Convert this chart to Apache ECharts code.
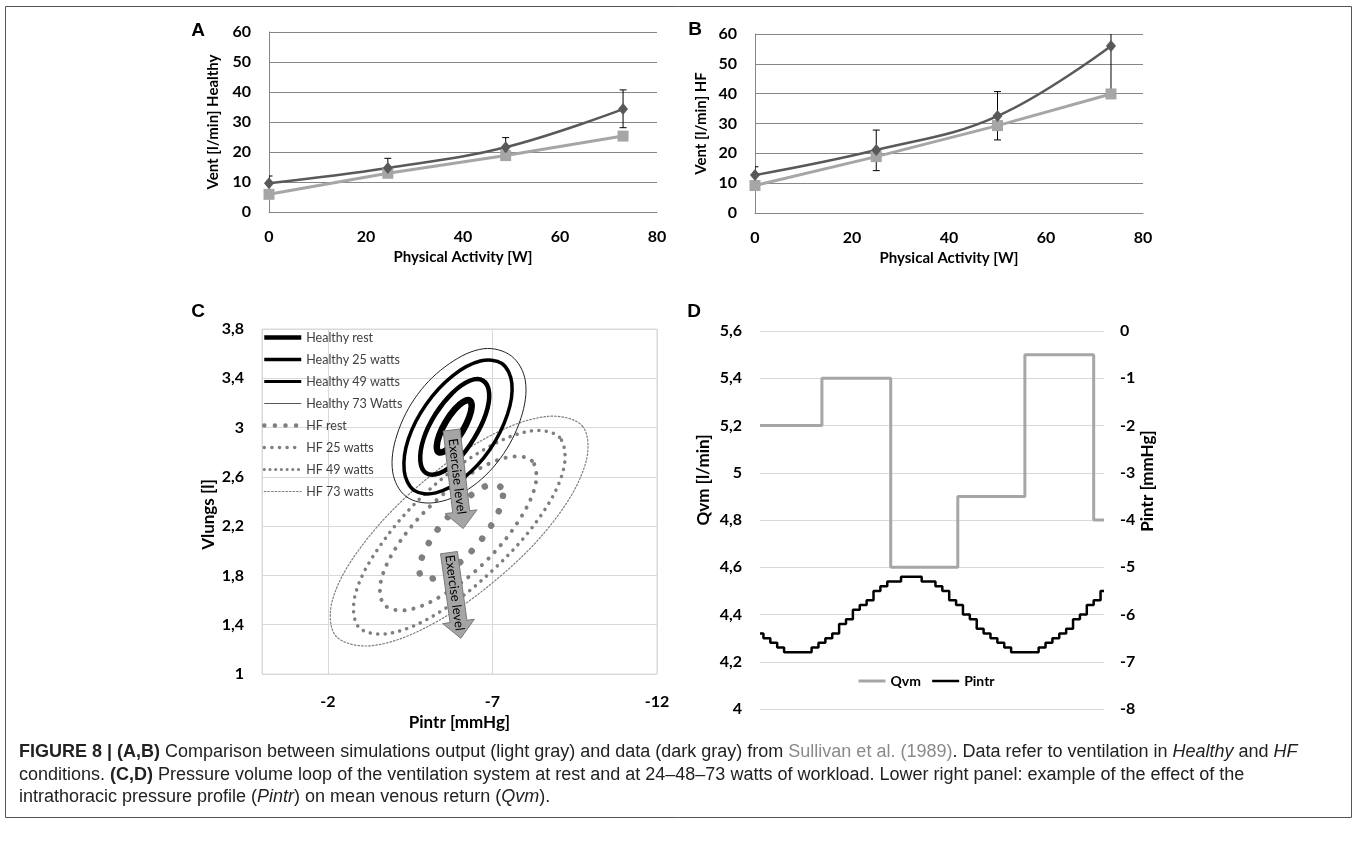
<!DOCTYPE html>
<html>
<head>
<meta charset="utf-8">
<script src="https://cdn.jsdelivr.net/npm/echarts@6/dist/echarts.min.js"></script>
<style>
  html, body { margin: 0; padding: 0; background: #fff; }
  #chart { width: 1358px; height: 843px; }
</style>
</head>
<body>
<div id="chart"></div>
<script>
// --- panels A and B: ventilation vs physical activity ---
const wattsA = [0, 24.5, 48.8, 73];
const ventHealthyData = [9.6, 14.7, 21.6, 34.3];
const ventHealthyLow = [9.6, 14.7, 21.6, 28.1];
const ventHealthyHigh = [12.0, 17.9, 24.8, 40.7];
const ventHealthySim = [5.9, 12.9, 18.8, 25.3];

const wattsB = [0, 25, 50, 73.4];
const ventHFData = [12.7, 21.1, 32.5, 56.0];
const ventHFLow = [12.7, 14.2, 24.5, 41.0];
const ventHFHigh = [15.5, 27.8, 40.7, 71.0];
const ventHFSim = [9.2, 18.9, 29.3, 39.9];

// --- panel C: pressure-volume loops, points are [Pintr, Vlungs] ---
const healthyRest = [[-6.31, 3.22], [-6.12, 3.21], [-5.86, 3.15], [-5.59, 3.05], [-5.39, 2.94], [-5.31, 2.85],
  [-5.37, 2.80], [-5.56, 2.81], [-5.82, 2.87], [-6.09, 2.97], [-6.29, 3.08], [-6.37, 3.17]];
const healthy25 = [[-6.72, 3.38], [-6.31, 3.38], [-5.78, 3.28], [-5.27, 3.11], [-4.91, 2.91], [-4.81, 2.73],
  [-4.99, 2.63], [-5.40, 2.63], [-5.93, 2.73], [-6.44, 2.91], [-6.80, 3.11], [-6.90, 3.28]];
const healthy49 = [[-7.29, 3.52], [-6.63, 3.54], [-5.79, 3.42], [-4.99, 3.19], [-4.45, 2.91], [-4.32, 2.65],
  [-4.62, 2.49], [-5.28, 2.47], [-6.12, 2.59], [-6.92, 2.82], [-7.46, 3.11], [-7.59, 3.36]];
const healthy73 = [[-7.58, 3.58], [-6.74, 3.64], [-5.70, 3.52], [-4.73, 3.27], [-4.10, 2.94], [-3.97, 2.64],
  [-4.38, 2.44], [-5.22, 2.39], [-6.27, 2.50], [-7.24, 2.75], [-7.87, 3.08], [-8.00, 3.38]];
const hfRest = [[-7.24, 2.52], [-6.85, 2.53], [-6.25, 2.43], [-5.60, 2.26], [-5.06, 2.06], [-4.79, 1.88],
  [-4.86, 1.78], [-5.25, 1.78], [-5.85, 1.87], [-6.51, 2.04], [-7.04, 2.24], [-7.31, 2.42]];
const hf25 = [[-8.20, 2.73], [-7.49, 2.76], [-6.37, 2.63], [-5.14, 2.37], [-4.13, 2.05], [-3.61, 1.75],
  [-3.72, 1.56], [-4.43, 1.52], [-5.55, 1.65], [-6.78, 1.91], [-7.79, 2.24], [-8.31, 2.54]];
const hf49 = [[-9.04, 2.92], [-8.11, 2.97], [-6.61, 2.80], [-4.94, 2.46], [-3.56, 2.03], [-2.83, 1.64],
  [-2.94, 1.38], [-3.88, 1.33], [-5.38, 1.50], [-7.04, 1.85], [-8.43, 2.27], [-9.16, 2.66]];
const hf73 = [[-9.74, 3.01], [-8.65, 3.09], [-6.84, 2.92], [-4.81, 2.54], [-3.09, 2.06], [-2.15, 1.61],
  [-2.24, 1.31], [-3.34, 1.23], [-5.14, 1.40], [-7.18, 1.78], [-8.89, 2.25], [-9.83, 2.71]];

// "Exercise level" arrows (start / tip)
const arrowFrom = [[-5.76, 2.98], [-5.68, 1.985]];
const arrowTo = [[-6.11, 2.18], [-6.04, 1.29]];

// --- panel D: Qvm and Pintr over time (x is % of the plotted window) ---
const qvmTime = [0, 18, 38, 57.5, 77, 97, 100];
const qvmValues = [5.2, 5.4, 4.6, 4.9, 5.5, 4.8, 4.8];
const pintrTime = [0, 2, 4, 6, 8, 10, 12, 14, 16, 18, 20, 22, 24, 26, 28, 30, 32, 34, 36, 38, 40, 42, 44, 46, 48, 50,
  52, 54, 56, 58, 60, 62, 64, 66, 68, 70, 72, 74, 76, 78, 80, 82, 84, 86, 88, 90, 92, 94, 96, 98, 100];
const pintrValues = [-6.4, -6.5, -6.6, -6.7, -6.8, -6.8, -6.8, -6.8, -6.7, -6.6, -6.5, -6.4, -6.2, -6.1, -5.9, -5.8,
  -5.7, -5.5, -5.4, -5.3, -5.3, -5.2, -5.2, -5.2, -5.3, -5.3, -5.4, -5.5, -5.7, -5.8, -6.0, -6.1, -6.3, -6.4, -6.5,
  -6.6, -6.7, -6.8, -6.8, -6.8, -6.8, -6.7, -6.6, -6.5, -6.4, -6.3, -6.1, -6.0, -5.8, -5.7, -5.5];

const FONT = 'Lato, "Open Sans", sans-serif';
const DARK = '#595959';
const LIGHT = '#a6a6a6';
const HF_GRAY = '#7f7f7f';

const tickLabel = { color: '#000', fontWeight: 'bold', fontSize: 16, fontFamily: FONT };
const nameStyle = { color: '#000', fontWeight: 'bold', fontSize: 15, fontFamily: FONT };
const bigName = { ...nameStyle, fontSize: 17 };

const pairs = (xs, ys) => xs.map((x, i) => [x, ys[i]]);
const comma = v => String(Math.round(v * 10) / 10).replace('.', ',');

// loop drawing styles (ring) and legend sample styles
const loops = [
  { points: hf73, color: HF_GRAY, width: 1.2, dash: [1.6, 2] },
  { points: hf49, color: HF_GRAY, width: 3.5, dash: [0.1, 7.3] },
  { points: hf25, color: HF_GRAY, width: 4, dash: [0.1, 9] },
  { points: hfRest, color: HF_GRAY, width: 6.5, dash: [0.1, 16] },
  { points: healthy73, color: '#222', width: 1, dash: null },
  { points: healthy49, color: '#000', width: 3.5, dash: null },
  { points: healthy25, color: '#000', width: 4.5, dash: null },
  { points: healthyRest, color: '#000', width: 6.5, dash: null },
];
const loopLegend = [
  { name: 'Healthy rest', color: '#000', width: 4.5 },
  { name: 'Healthy 25 watts', color: '#000', width: 3.5 },
  { name: 'Healthy 49 watts', color: '#000', width: 3 },
  { name: 'Healthy 73 Watts', color: '#595959', width: 1 },
  { name: 'HF rest', color: HF_GRAY, width: 4.5, dash: [0.1, 10.5] },
  { name: 'HF 25 watts', color: HF_GRAY, width: 3.5, dash: [0.1, 7.5] },
  { name: 'HF 49 watts', color: HF_GRAY, width: 3, dash: [0.1, 5.6] },
  { name: 'HF 73 watts', color: HF_GRAY, width: 1.2, dash: [1.6, 2] },
];

function renderErrorBar(params, api) {
  const x = api.value(0);
  const lo = api.coord([x, api.value(1)]);
  const hi = api.coord([x, api.value(2)]);
  const w = 3.5;
  const style = { stroke: '#000', lineWidth: 1 };
  return {
    type: 'group',
    children: [
      { type: 'line', shape: { x1: lo[0], y1: lo[1], x2: hi[0], y2: hi[1] }, style },
      { type: 'line', shape: { x1: hi[0] - w, y1: hi[1], x2: hi[0] + w, y2: hi[1] }, style },
      { type: 'line', shape: { x1: lo[0] - w, y1: lo[1], x2: lo[0] + w, y2: lo[1] }, style },
    ],
  };
}

function renderArrow(params, api) {
  const p0 = api.coord([api.value(0), api.value(1)]);
  const p1 = api.coord([api.value(2), api.value(3)]);
  const dx = p1[0] - p0[0], dy = p1[1] - p0[1];
  const len = Math.hypot(dx, dy);
  const ux = dx / len, uy = dy / len, nx = -uy, ny = ux;
  const body = 8.5, head = 16, headLen = 17;
  const bx = p1[0] - ux * headLen, by = p1[1] - uy * headLen;
  const pts = [
    [p0[0] + nx * body, p0[1] + ny * body],
    [bx + nx * body, by + ny * body],
    [bx + nx * head, by + ny * head],
    p1,
    [bx - nx * head, by - ny * head],
    [bx - nx * body, by - ny * body],
    [p0[0] - nx * body, p0[1] - ny * body],
  ];
  return {
    type: 'group',
    children: [
      { type: 'polygon', shape: { points: pts }, style: { fill: '#a5a5a5', stroke: '#7a7a7a', lineWidth: 1 } },
      {
        type: 'text', x: p0[0] + dx * 0.47, y: p0[1] + dy * 0.47, rotation: -Math.atan2(dy, dx),
        style: { text: 'Exercise level', fill: '#000', fontSize: 13, fontFamily: FONT, align: 'center', verticalAlign: 'middle' },
      },
    ],
  };
}

function ventX(gridIndex) {
  return {
    type: 'value', gridIndex, min: 0, max: 80, interval: 20,
    axisLine: { show: true, lineStyle: { color: '#868686' } },
    axisTick: { show: false },
    splitLine: { show: false },
    axisLabel: { ...tickLabel, margin: 17 },
    name: 'Physical Activity [W]', nameLocation: 'middle', nameGap: 38, nameTextStyle: nameStyle,
  };
}
function ventY(gridIndex, name, gap) {
  return {
    type: 'value', gridIndex, min: 0, max: 60, interval: 10,
    axisLine: { show: true, lineStyle: { color: '#868686' } },
    axisTick: { show: false },
    splitLine: { show: true, lineStyle: { color: '#868686' } },
    axisLabel: { ...tickLabel, margin: 18 },
    name, nameLocation: 'middle', nameGap: gap, nameTextStyle: nameStyle,
  };
}

const captionText =
  '{b|FIGURE 8 | (A,B)} Comparison between simulations output (light gray) and data (dark gray) from {g|Sullivan et al. (1989)}. Data refer to ventilation in {i|Healthy} and {i|HF}\n' +
  'conditions. {b|(C,D)} Pressure volume loop of the ventilation system at rest and at 24\u201348\u201373 watts of workload. Lower right panel: example of the effect of the\n' +
  'intrathoracic pressure profile ({i|Pintr}) on mean venous return ({i|Qvm}).';
const CAP_FONT = '"Liberation Sans Narrow", "Liberation Sans", sans-serif';
const CAP_SIZE = 18;

const chart = echarts.init(document.getElementById('chart'), null, { renderer: 'canvas' });

const option = {
  animation: false,
  backgroundColor: '#fff',
  textStyle: { fontFamily: FONT },
  grid: [
    { left: 269, top: 32, width: 388, height: 180 },
    { left: 755, top: 34, width: 388, height: 179 },
    { left: 262, top: 329, width: 395, height: 345, show: true, borderColor: '#d9d9d9', borderWidth: 1 },
    { left: 760, top: 331, width: 344, height: 378 },
  ],
  xAxis: [
    ventX(0),
    ventX(1),
    {
      type: 'value', gridIndex: 2, min: -12, max: 0, interval: 5, inverse: true,
      axisLine: { show: false }, axisTick: { show: false },
      splitLine: { show: true, lineStyle: { color: '#d9d9d9' } },
      axisLabel: { ...tickLabel, margin: 20, formatter: v => (v === 0 ? '' : String(v)) },
      name: 'Pintr [mmHg]', nameLocation: 'middle', nameGap: 40, nameTextStyle: bigName,
    },
    { type: 'value', gridIndex: 3, min: 0, max: 100, show: false },
  ],
  yAxis: [
    ventY(0, 'Vent [l/min] Healthy', 48),
    ventY(1, 'Vent [l/min] HF', 46),
    {
      type: 'value', gridIndex: 2, min: 1, max: 3.8, interval: 0.4,
      axisLine: { show: false }, axisTick: { show: false },
      splitLine: { show: true, lineStyle: { color: '#d9d9d9' } },
      axisLabel: { ...tickLabel, margin: 18, formatter: comma },
      name: 'Vlungs [l]', nameLocation: 'middle', nameGap: 45,
      nameTextStyle: { ...bigName, padding: [0, 26, 0, 0] },
    },
    {
      type: 'value', gridIndex: 3, min: 4, max: 5.6, interval: 0.2,
      axisLine: { show: false }, axisTick: { show: false },
      splitLine: { show: true, lineStyle: { color: '#d9d9d9' } },
      axisLabel: { ...tickLabel, margin: 18, formatter: comma },
      name: 'Qvm [l/min]', nameLocation: 'middle', nameGap: 48,
      nameTextStyle: { ...bigName, padding: [0, 0, 0, 80] },
    },
    {
      type: 'value', gridIndex: 3, position: 'right', min: -8, max: 0, interval: 1,
      axisLine: { show: false }, axisTick: { show: false }, splitLine: { show: false },
      axisLabel: { ...tickLabel, margin: 16 },
      name: 'Pintr [mmHg]', nameLocation: 'middle', nameGap: 33, nameRotate: 90,
      nameTextStyle: { ...bigName, padding: [0, 0, 0, 78] },
    },
  ],
  legend: [
    {
      data: loopLegend.map(l => l.name), orient: 'vertical', left: 262, top: 331, padding: 0,
      itemWidth: 37, itemHeight: 14, itemGap: 9, selectedMode: false,
      itemStyle: { opacity: 0 },
      lineStyle: { width: 'inherit' },
      textStyle: { color: '#404040', fontSize: 12.5, fontFamily: FONT },
    },
    {
      data: ['Qvm', 'Pintr'], left: 857, top: 674, padding: 0, itemWidth: 27, itemHeight: 14, itemGap: 10,
      selectedMode: false,
      itemStyle: { opacity: 0 },
      lineStyle: { width: 'inherit' },
      textStyle: { color: '#000', fontSize: 14, fontWeight: 'bold', fontFamily: FONT },
    },
  ],
  graphic: [
    { type: 'rect', shape: { x: 5.5, y: 6.5, width: 1346, height: 811 }, style: { fill: 'none', stroke: '#555', lineWidth: 1 }, silent: true },
    { type: 'text', x: 198, y: 31, style: { text: 'A', font: 'bold 19px "Liberation Sans", Arial', fill: '#000', align: 'center', verticalAlign: 'middle' } },
    { type: 'text', x: 695, y: 30, style: { text: 'B', font: 'bold 19px "Liberation Sans", Arial', fill: '#000', align: 'center', verticalAlign: 'middle' } },
    { type: 'text', x: 198, y: 312, style: { text: 'C', font: 'bold 19px "Liberation Sans", Arial', fill: '#000', align: 'center', verticalAlign: 'middle' } },
    { type: 'text', x: 694, y: 312, style: { text: 'D', font: 'bold 19px "Liberation Sans", Arial', fill: '#000', align: 'center', verticalAlign: 'middle' } },
    {
      type: 'text', x: 19, y: 741,
      style: {
        text: captionText, fill: '#222', fontSize: CAP_SIZE, fontFamily: CAP_FONT, lineHeight: 22.5,
        rich: {
          b: { fontWeight: 'bold', fontSize: CAP_SIZE, fontFamily: CAP_FONT, fill: '#222', lineHeight: 22.5 },
          g: { fontSize: CAP_SIZE, fontFamily: CAP_FONT, fill: '#8a8a8a', lineHeight: 22.5 },
          i: { fontStyle: 'italic', fontSize: CAP_SIZE, fontFamily: CAP_FONT, fill: '#222', lineHeight: 22.5 },
        },
      },
    },
  ],
  series: [
    // A
    { type: 'custom', xAxisIndex: 0, yAxisIndex: 0, renderItem: renderErrorBar, clip: true, silent: true,
      data: wattsA.map((w, i) => [w, ventHealthyLow[i], ventHealthyHigh[i]]) },
    { name: 'Healthy sim', type: 'line', xAxisIndex: 0, yAxisIndex: 0, data: pairs(wattsA, ventHealthySim),
      symbol: 'rect', symbolSize: 11, itemStyle: { color: LIGHT }, lineStyle: { color: LIGHT, width: 3 } },
    { name: 'Healthy data', type: 'line', xAxisIndex: 0, yAxisIndex: 0, data: pairs(wattsA, ventHealthyData), smooth: 0.4,
      symbol: 'diamond', symbolSize: [10, 12], itemStyle: { color: DARK }, lineStyle: { color: DARK, width: 2.5 } },
    // B
    { type: 'custom', xAxisIndex: 1, yAxisIndex: 1, renderItem: renderErrorBar, clip: true, silent: true,
      data: wattsB.map((w, i) => [w, ventHFLow[i], ventHFHigh[i]]) },
    { name: 'HF sim', type: 'line', xAxisIndex: 1, yAxisIndex: 1, data: pairs(wattsB, ventHFSim),
      symbol: 'rect', symbolSize: 11, itemStyle: { color: LIGHT }, lineStyle: { color: LIGHT, width: 3 } },
    { name: 'HF data', type: 'line', xAxisIndex: 1, yAxisIndex: 1, data: pairs(wattsB, ventHFData), smooth: 0.4,
      symbol: 'diamond', symbolSize: [10, 12], itemStyle: { color: DARK }, lineStyle: { color: DARK, width: 2.5 } },
    // C: legend entries
    ...loopLegend.map(l => ({
      name: l.name, type: 'line', xAxisIndex: 2, yAxisIndex: 2, data: [], symbol: 'none',
      lineStyle: { color: l.color, width: l.width, type: l.dash || 'solid', cap: l.dash ? 'round' : 'butt' },
      itemStyle: { color: l.color },
    })),
    // C: loops
    ...loops.map(l => ({
      type: 'custom', xAxisIndex: 2, yAxisIndex: 2, data: l.points, silent: true, clip: true,
      renderItem: (params, api) => params.dataIndex !== 0 ? null : {
        type: 'polygon',
        shape: { points: l.points.map(p => api.coord(p)), smooth: 0.35 },
        style: { fill: 'none', stroke: l.color, lineWidth: l.width, lineDash: l.dash || null, lineCap: l.dash ? 'round' : 'butt' },
      },
    })),
    { type: 'custom', xAxisIndex: 2, yAxisIndex: 2, renderItem: renderArrow, silent: true,
      data: arrowFrom.map((p, i) => [p[0], p[1], arrowTo[i][0], arrowTo[i][1]]) },
    // D
    { name: 'Qvm', type: 'line', xAxisIndex: 3, yAxisIndex: 3, step: 'end', symbol: 'none',
      data: pairs(qvmTime, qvmValues), lineStyle: { color: LIGHT, width: 3 }, itemStyle: { color: LIGHT } },
    { name: 'Pintr', type: 'line', xAxisIndex: 3, yAxisIndex: 4, step: 'middle', symbol: 'none',
      data: pairs(pintrTime, pintrValues), lineStyle: { color: '#000', width: 2.5 }, itemStyle: { color: '#000' } },
  ],
};

chart.setOption(option);
</script>
</body>
</html>
